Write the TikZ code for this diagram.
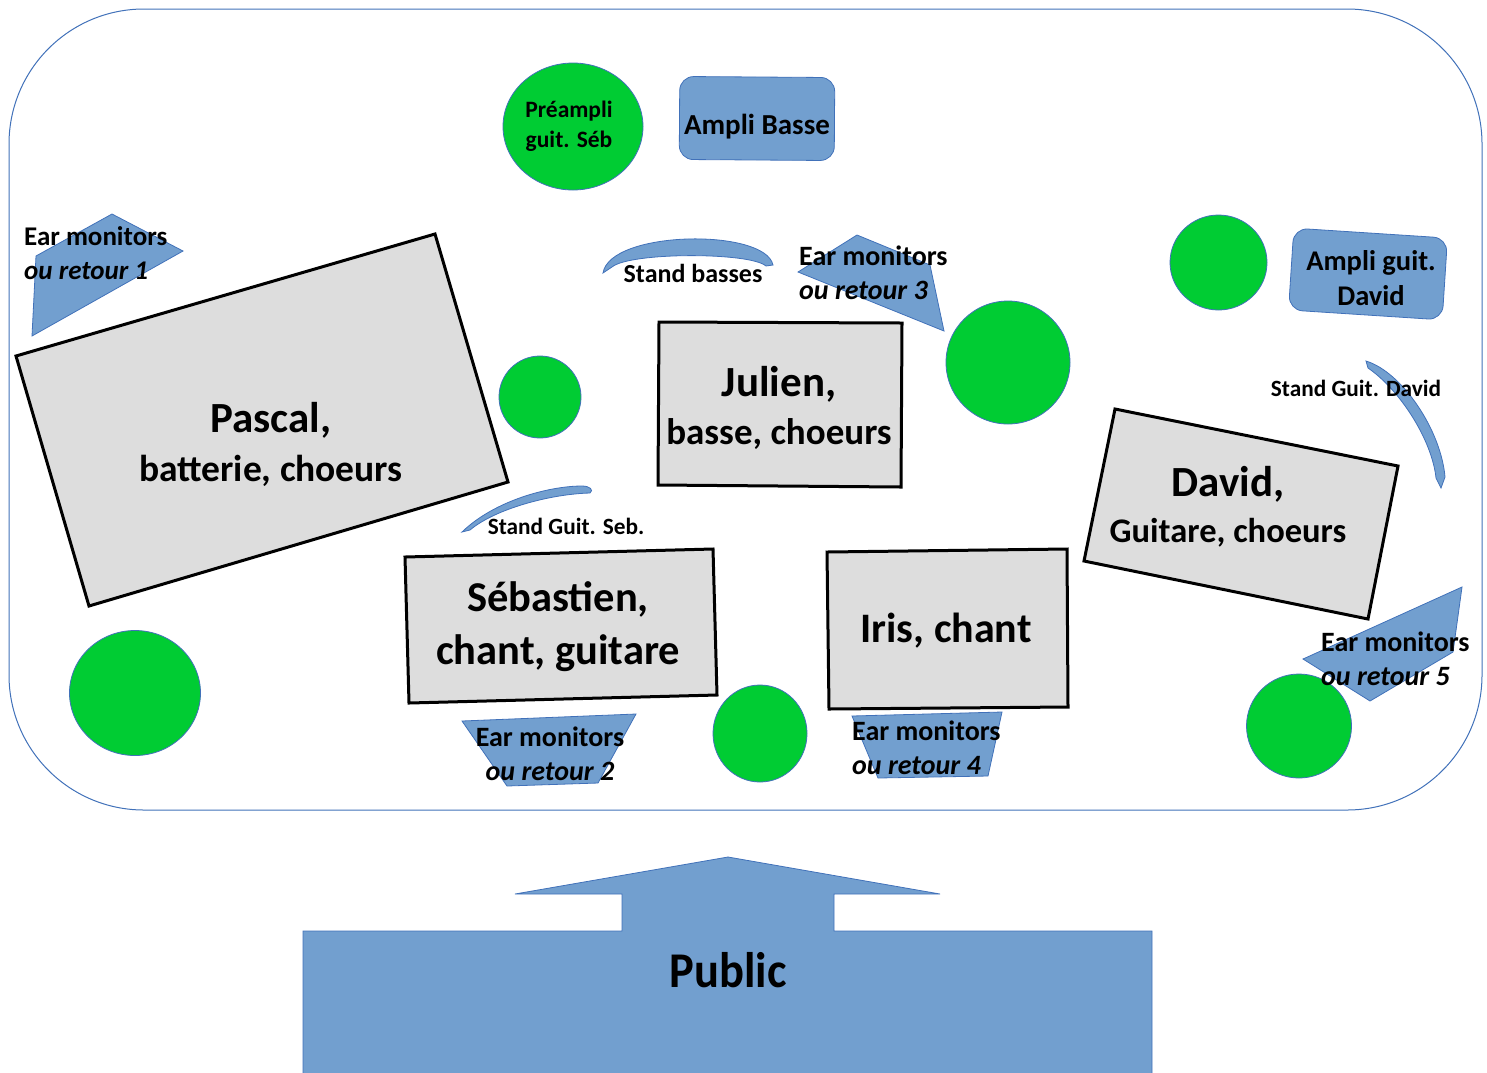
\documentclass[tikz,border=0pt]{standalone}
\usepackage{fontspec}
\setmainfont{Carlito}
\usetikzlibrary{shapes.geometric}
\definecolor{bluef}{RGB}{114,159,207}
\definecolor{blued}{RGB}{65,113,185}
\definecolor{greenf}{RGB}{0,204,51}
\definecolor{grayf}{RGB}{221,221,221}
\newcommand\setfs[2]{\fontsize{#1pt}{#2pt}\selectfont}
\newcommand\bigline[1]{{\fontsize{43}{49}\selectfont #1}}
\begin{document}
\begin{tikzpicture}[x=1pt,y=-1pt,
  stageline/.style={draw=blued, line width=1pt},
  person/.style={fill=grayf, draw=black, line width=3pt, line join=miter},
  spot/.style={fill=greenf, draw=blued, line width=0.8pt, ellipse, inner sep=0pt},
  bshape/.style={fill=bluef, draw=blued, line width=0.8pt},
  lbl/.style={inner sep=0pt, align=center},
  earlbl/.style={inner sep=0pt, align=left, anchor=west, font={\setfs{28}{34}\bfseries}},
  perslbl/.style={inner sep=0pt, align=center},
  standlbl/.style={inner sep=0pt, font={\setfs{23.3}{27}\bfseries}}
]
\useasboundingbox (0,0) rectangle (1487,1072);
\clip (0,0) rectangle (1487,1072);
% stage
\draw[stageline, rounded corners=135pt] (9,9) rectangle (1482,810);
% public arrow
\draw[bshape] (303,931) -- (622,931) -- (622,894) -- (515,894) -- (728,857) -- (940,894) -- (834,894) -- (834,931) -- (1152,931) -- (1152,1085) -- (303,1085) -- cycle;
\node[lbl, font={\setfs{50}{60}\bfseries}, xscale=0.93] (tpublic) at (728,970) {Public};
% ear monitor shapes
\draw[bshape] (36,256) -- (112,214) -- (183,251) -- (32,336) -- cycle;
\draw[bshape] (798,272) -- (857,235) -- (930,265) -- (944,331) -- cycle;
\draw[bshape] (1303,659) -- (1462,587) -- (1453,652) -- (1370,701) -- cycle;
\draw[bshape] (462,721) -- (636,714) -- (598,783) -- (507,786) -- cycle;
\draw[bshape] (852,716) -- (1002,712) -- (988,776) -- (878,778) -- cycle;
% stands
\draw[bshape] (603,273) .. controls (610,230) and (765,228) .. (773,265) -- (766,266)
   .. controls (750,252) and (630,252) .. (612,267) -- cycle;
\draw[bshape] (462,532) .. controls (495,500) and (550,486) .. (582,486)
   .. controls (590,486) and (594,490) .. (590,493)
   .. controls (550,494) and (495,509) .. (470,530) -- cycle;
\draw[bshape] (1366,361) .. controls (1402,372) and (1441,430) .. (1445,477) -- (1441,488) -- (1436,478)
   .. controls (1432,440) and (1400,390) .. (1368,368) -- cycle;
% musicians
\draw[person] (16,356) -- (435,234) -- (508,482) -- (89,606) -- cycle;
\draw[person] (659,322) -- (902,323) -- (901,487) -- (658,485) -- cycle;
\draw[person] (405,557) -- (713,549) -- (717,695) -- (409,703) -- cycle;
\draw[person] (827,552) -- (1067,549) -- (1068,707) -- (829,709) -- cycle;
\draw[person] (1115,409) -- (1398,466) -- (1368,619) -- (1084,561) -- cycle;
% green spots
\node[spot, minimum width=140, minimum height=127] (pre) at (573,126.5) {};
\node[spot, minimum width=82, minimum height=82] (g1) at (540,397) {};
\node[spot, minimum width=124, minimum height=123] (g2) at (1008,362.5) {};
\node[spot, minimum width=97, minimum height=95] (g3) at (1218.5,262.5) {};
\node[spot, minimum width=131, minimum height=125] (g4) at (135,693) {};
\node[spot, minimum width=94, minimum height=97] (g5) at (760,733.5) {};
\node[spot, minimum width=105, minimum height=104] (g6) at (1299,726) {};
% amplis
\node[bshape, rounded corners=14pt, minimum width=155, minimum height=83, rotate=-0.4] (abasse) at (757,118.5) {};
\node[bshape, rounded corners=14pt, minimum width=154, minimum height=82, rotate=-3.7] (adavid) at (1368,274) {};
% texts
\node[lbl, font={\setfs{23.5}{30}\bfseries}] (tpre) at (569,126) {Préampli\\guit. Séb};
\node[lbl, font={\setfs{29}{35}\bfseries}] (tabasse) at (757,127) {Ampli Basse};
\node[lbl, font={\setfs{28.5}{35}\bfseries}] (tadavid) at (1371,278.5) {Ampli guit.\\David};
\node[perslbl, font={\setfs{37.5}{49}\bfseries}] (tpascal) at (271,444) {\bigline{Pascal,}\\batterie, choeurs};
\node[perslbl, font={\setfs{37}{48}\bfseries}] (tjulien) at (779,408) {\bigline{Julien,}\\basse, choeurs};
\node[perslbl, font={\setfs{42.5}{53}\bfseries}] (tseb) at (558,627) {Sébastien,\\chant, guitare};
\node[perslbl, font={\setfs{42}{50}\bfseries}] (tiris) at (946,631) {Iris, chant};
\node[perslbl, font={\setfs{34.5}{46}\bfseries}] (tdavid) at (1228,507) {\bigline{David,}\\Guitare, choeurs};
\node[standlbl, font={\setfs{26}{30}\bfseries}] (tsbasses) at (693,273) {Stand basses};
\node[standlbl] (tsseb) at (566,526) {Stand Guit. Seb.};
\node[standlbl] (tsdavid) at (1356,388) {Stand Guit. David};
\node[earlbl, font={\setfs{27}{34}\bfseries}] (te1) at (24,253.5) {Ear monitors\\\textit{ou retour 1}};
\node[earlbl] (te3) at (799,273) {Ear monitors\\\textit{ou retour 3}};
\node[earlbl] (te4) at (852,747.5) {Ear monitors\\\textit{ou retour 4}};
\node[earlbl] (te5) at (1321,658.5) {Ear monitors\\\textit{ou retour 5}};
\node[earlbl, align=center, anchor=center] (te2) at (550,754) {Ear monitors\\\textit{ou retour 2}};
\end{tikzpicture}
\end{document}
